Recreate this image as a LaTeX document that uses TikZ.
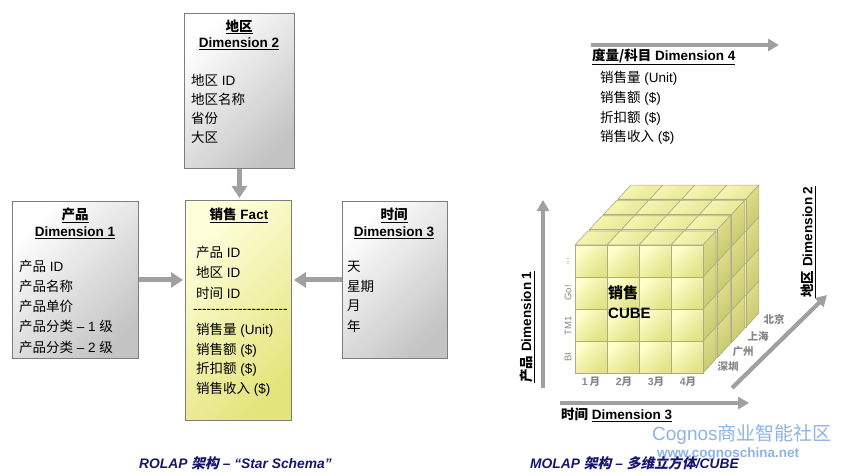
\documentclass[tikz,border=0pt]{standalone}
\usepackage{fontspec}
\setmainfont{Liberation Sans}
\newfontfamily\cjk{Noto Sans CJK SC}
\newfontfamily\cjkit[FakeSlant=0.22]{Noto Sans CJK SC}
\usetikzlibrary{arrows.meta}
\newcommand\zh[1]{{\cjk #1}}
\newcommand\zhi[1]{{\cjkit #1}}
\definecolor{arrowgray}{RGB}{160,160,160}
\definecolor{boxborder}{RGB}{125,125,125}
\definecolor{graydark}{RGB}{196,196,196}
\definecolor{factlight}{RGB}{255,255,220}
\definecolor{factdark}{RGB}{228,228,125}
\definecolor{cubelight}{RGB}{255,255,205}
\definecolor{cubedark}{RGB}{226,226,135}
\definecolor{cubetop}{RGB}{246,246,178}
\definecolor{cubetopd}{RGB}{232,232,150}
\definecolor{cubeside}{RGB}{222,222,140}
\definecolor{cubesided}{RGB}{200,200,110}
\definecolor{cubeedge}{RGB}{172,172,138}
\definecolor{lblgray}{RGB}{135,135,135}
\definecolor{navy}{RGB}{22,22,110}
\definecolor{wmblue}{RGB}{140,180,228}
\begin{document}
\begin{tikzpicture}[x=1pt,y=-1pt,
  every node/.style={inner sep=0pt},
  lbl/.style={anchor=west, font=\fontsize{13.5}{16}\selectfont},
  ttl/.style={font=\fontsize{13.5}{16}\selectfont\bfseries},
  graybox/.style={draw=boxborder, line width=0.9pt, top color=white, bottom color=graydark, shading angle=45, anchor=north west},
  factbox/.style={draw=boxborder, line width=0.9pt, top color=factlight, bottom color=factdark, shading angle=45, anchor=north west},
  conn/.style={draw=arrowgray, line width=5pt, -{Triangle[length=12pt,width=15pt]}, shorten >=2pt},
  axisarrow/.style={draw=arrowgray, line width=4.2pt, -{Triangle[length=11pt,width=12pt]}},
  frontcell/.style={draw=cubeedge, line width=0.6pt, top color=cubelight, bottom color=cubedark, shading angle=45},
  topcell/.style={draw=cubeedge, line width=0.6pt, top color=cubetop, bottom color=cubetopd, shading angle=45},
  sidecell/.style={draw=cubeedge, line width=0.6pt, top color=cubeside, bottom color=cubesided, shading angle=45},
  small/.style={font=\fontsize{9.5}{11}\selectfont, text=lblgray},
  smallb/.style={font=\fontsize{10.5}{12}\selectfont\bfseries, text=lblgray},
  caption/.style={anchor=west, font=\fontsize{13.8}{15}\selectfont\bfseries\itshape, text=navy}
]
\fill[white] (0,0) rectangle (843,476);
\useasboundingbox (0,0) rectangle (843,476);

% ---------------- ROLAP ----------------
\node[graybox, minimum width=110pt, minimum height=155pt] (d2) at (184,13) {};
\node[graybox, minimum width=126pt, minimum height=157pt] (d1) at (12,201) {};
\node[factbox, minimum width=106pt, minimum height=220pt] (fact) at (185,200) {};
\node[graybox, minimum width=105pt, minimum height=157pt] (d3) at (342,201) {};

\draw[conn] (d2.south) -- (d2.south |- fact.north);
\draw[conn] (d1.east) -- (d1.east -| fact.west);
\draw[conn] (d3.west) -- (d3.west -| fact.east);

% Dimension 2
\node[ttl] (d2t) at (239,27) {\underline{\zh{地区}}};
\node[ttl] (d2d) at (239,44) {\underline{Dimension 2}};
\node[lbl] (d2a) at (191,80) {\zh{地区} ID};
\node[lbl] (d2b) at (191,99) {\zh{地区名称}};
\node[lbl] (d2c) at (191,118) {\zh{省份}};
\node[lbl] (d2e) at (191,137) {\zh{大区}};

% Dimension 1
\node[ttl] (d1t) at (75,215) {\underline{\zh{产品}}};
\node[ttl] (d1d) at (75,233) {\underline{Dimension 1}};
\node[lbl] (d1a) at (19,266) {\zh{产品} ID};
\node[lbl] (d1b) at (19,286) {\zh{产品名称}};
\node[lbl] (d1c) at (19,306) {\zh{产品单价}};
\node[lbl] (d1e) at (19,326) {\zh{产品分类} – 1 \zh{级}};
\node[lbl] (d1f) at (19,347) {\zh{产品分类} – 2 \zh{级}};

% Fact
\node[ttl] (ft) at (239,215) {\underline{\zh{销售} Fact}};
\node[lbl] (fa) at (196,252) {\zh{产品} ID};
\node[lbl] (fb) at (196,272) {\zh{地区} ID};
\node[lbl] (fc) at (196,293) {\zh{时间} ID};
\node[lbl] (fdash) at (193,311) {-{}-{}-{}-{}-{}-{}-{}-{}-{}-{}-{}-{}-{}-{}-{}-{}-{}-{}-{}-{}-{}};
\node[lbl] (fe) at (196,330) {\zh{销售量} (Unit)};
\node[lbl] (ff) at (196,350) {\zh{销售额} (\$)};
\node[lbl] (fg) at (196,369) {\zh{折扣额} (\$)};
\node[lbl] (fh) at (196,389) {\zh{销售收入} (\$)};

% Dimension 3
\node[ttl] (d3t) at (394,215) {\underline{\zh{时间}}};
\node[ttl] (d3d) at (394,233) {\underline{Dimension 3}};
\node[lbl] (d3a) at (347,267) {\zh{天}};
\node[lbl] (d3b) at (347,286) {\zh{星期}};
\node[lbl] (d3c) at (347,306) {\zh{月}};
\node[lbl] (d3e) at (347,326) {\zh{年}};

% ---------------- MOLAP ----------------
\coordinate (d4s) at (591,45);
\coordinate (d4e) at (779,45);
\draw[axisarrow] (d4s) -- (d4e);
\node[ttl, anchor=west] (d4t) at (592,57) {\underline{\zh{度量/科目} Dimension 4}};
\node[lbl] (d4a) at (600,78) {\zh{销售量} (Unit)};
\node[lbl] (d4b) at (600,98) {\zh{销售额} (\$)};
\node[lbl] (d4c) at (600,118) {\zh{折扣额} (\$)};
\node[lbl] (d4d) at (600,137) {\zh{销售收入} (\$)};

% cube: 4 slabs, back to front
\foreach \k in {3,2,1,0} {
  \begin{scope}[shift={({\k*14.3},{-\k*15.3})}]
    \foreach \i in {0,1,2,3}
      \path[topcell] ({575+32*\i},245) -- ++(32,0) -- ++(13,-14) -- ++(-32,0) -- cycle;
    \foreach \j in {0,1,2,3}
      \path[sidecell] (703,{245+32*\j}) -- ++(0,32) -- ++(13,-14) -- ++(0,-32) -- cycle;
    \foreach \i in {0,1,2,3}
      \foreach \j in {0,1,2,3}
        \path[frontcell] ({575+32*\i},{245+32*\j}) rectangle ++(32,32);
  \end{scope}
}

\node[font=\fontsize{15}{18}\selectfont\bfseries, anchor=west] (cubea) at (608,293) {\zh{销售}};
\node[font=\fontsize{15}{18}\selectfont\bfseries, anchor=west] (cubeb) at (608,313) {CUBE};

% row labels
\node[small, rotate=90] (rbi) at (568,357) {BI};
\node[small, rotate=90] (rtm) at (568,326) {TM1};
\node[small, rotate=90] (rgo) at (568,293) {Go!};
\node[small, rotate=90] (rdots) at (568,262) {...};
% column labels
\node[smallb] (c1) at (591,382) {1\,\zh{月}};
\node[smallb] (c2) at (624,382) {2\zh{月}};
\node[smallb] (c3) at (656,382) {3\zh{月}};
\node[smallb] (c4) at (688,382) {4\zh{月}};
% region labels
\node[smallb] (g1) at (728,367) {\zh{深圳}};
\node[smallb] (g2) at (743,352) {\zh{广州}};
\node[smallb] (g3) at (758,336) {\zh{上海}};
\node[smallb] (g4) at (774,319) {\zh{北京}};

% axes
\coordinate (ays) at (543,388);
\coordinate (aye) at (543,200);
\coordinate (axs) at (560,403);
\coordinate (axe) at (749,403);
\coordinate (azs) at (732,388);
\coordinate (aze) at (827,295);
\draw[axisarrow] (ays) -- (aye);
\draw[axisarrow] (axs) -- (axe);
\draw[axisarrow] (azs) -- (aze);

\node[ttl, rotate=90] (ay) at (527,327) {\underline{\zh{产品} Dimension 1}};
\node[ttl, rotate=90] (az) at (808,242) {\underline{\zh{地区} Dimension 2}};
\node[ttl, anchor=west] (ax) at (561,415) {\zh{时间} \underline{Dimension 3}};

% watermark
\node[anchor=west, font=\fontsize{19}{22}\selectfont, text=wmblue] (wm1) at (652,434) {Cognos\zh{商业智能社区}};
\node[anchor=west, font=\fontsize{13.5}{16}\selectfont\bfseries, text=wmblue] (wm2) at (657,454) {www.cognoschina.net};

% captions
\node[caption] (cap1) at (139,463) {ROLAP \zhi{架构} – “Star Schema”};
\node[caption] (cap2) at (530,463) {MOLAP \zhi{架构} – \zhi{多维立方体}/CUBE};
\end{tikzpicture}
\end{document}
